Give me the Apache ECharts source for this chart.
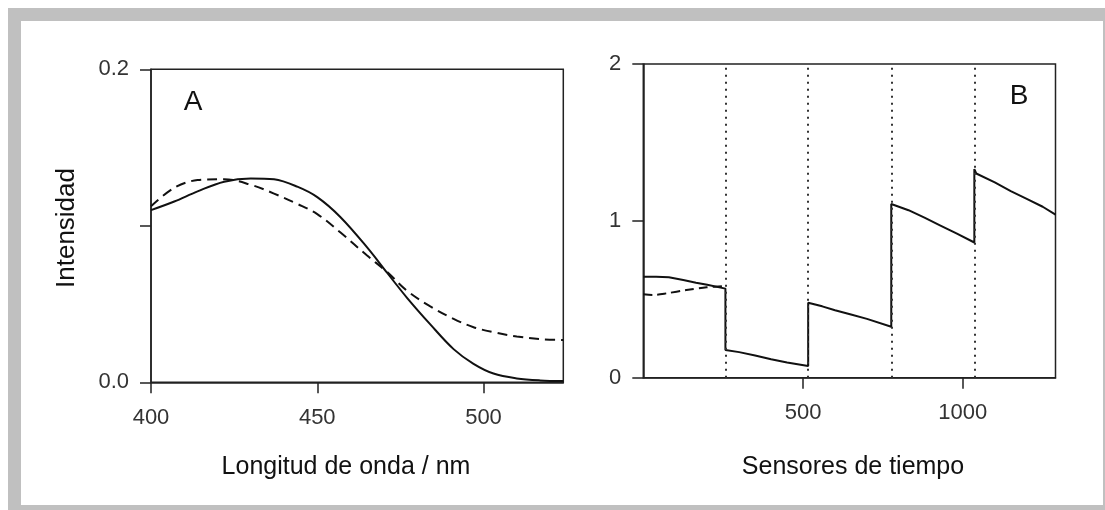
<!DOCTYPE html>
<html>
<head>
<meta charset="utf-8">
<script src="https://cdn.jsdelivr.net/npm/echarts@6/dist/echarts.min.js"></script>
<style>
  html, body { margin: 0; padding: 0; background: #fff; }
  #chart { width: 1105px; height: 510px; }
</style>
</head>
<body>
<div id="chart"></div>
<script>
// panel A: spectra
var wavelength = [400, 407, 414, 422, 430, 437, 444, 450, 457, 465, 471, 477, 484, 491, 497, 503, 510, 517, 524];
var spectrumSolid = [0.110, 0.1155, 0.122, 0.1282, 0.1303, 0.1297, 0.125, 0.1183, 0.1055, 0.0862, 0.070, 0.054, 0.037, 0.0212, 0.0118, 0.0056, 0.0025, 0.0012, 0.0008];
var spectrumDashed = [0.1125, 0.1243, 0.1292, 0.1298, 0.1262, 0.1206, 0.114, 0.1075, 0.0957, 0.081, 0.0705, 0.0585, 0.0485, 0.0405, 0.0352, 0.032, 0.0293, 0.0276, 0.027];

// panel B: sensor time series
var timeSolid = [0, 40, 80, 125, 165, 200, 257, 257, 300, 350, 400, 450, 516, 516, 560, 600, 650, 700, 776, 776, 830, 880, 930, 980, 1036, 1036, 1042, 1100, 1150, 1200, 1250, 1290];
var valueSolid = [0.644, 0.644, 0.640, 0.623, 0.606, 0.592, 0.568, 0.177, 0.163, 0.142, 0.118, 0.097, 0.075, 0.478, 0.455, 0.430, 0.403, 0.375, 0.325, 1.107, 1.068, 1.020, 0.970, 0.920, 0.862, 1.330, 1.302, 1.245, 1.190, 1.140, 1.090, 1.040];
var timeDashed = [0, 30, 73, 135, 198, 257];
var valueDashed = [0.532, 0.528, 0.538, 0.559, 0.576, 0.585];
var sensorBounds = [257, 516, 776, 1036];

function pairs(xs, ys) {
    return xs.map(function (x, i) { return [x, ys[i]]; });
}

var font = 'Liberation Sans, Arial, sans-serif';
var axisCol = '#222';
var lineCol = '#111';

var chart = echarts.init(document.getElementById('chart'));
chart.setOption({
    animation: false,
    backgroundColor: '#fff',
    grid: [
        {left: 151, top: 69.3, width: 412.3, height: 313, show: true, borderColor: axisCol, borderWidth: 1.5, backgroundColor: 'transparent'},
        {left: 643.3, top: 64, width: 412.2, height: 313.7, show: true, borderColor: axisCol, borderWidth: 1.5, backgroundColor: 'transparent'}
    ],
    xAxis: [
        {
            gridIndex: 0, type: 'value', min: 400, max: 524, interval: 50,
            axisLine: {lineStyle: {color: axisCol, width: 1.5}},
            axisTick: {length: 11, lineStyle: {color: axisCol, width: 1.5}},
            axisLabel: {margin: 25, color: '#333', fontSize: 22, fontFamily: font, showMaxLabel: false},
            splitLine: {show: false}
        },
        {
            gridIndex: 1, type: 'value', min: 0, max: 1290, interval: 500,
            axisLine: {lineStyle: {color: axisCol, width: 1.5}},
            axisTick: {length: 11, customValues: [500, 1000], lineStyle: {color: axisCol, width: 1.5}},
            axisLabel: {
                margin: 24, color: '#333', fontSize: 22, fontFamily: font, customValues: [500, 1000],
                formatter: function (v) { return String(v); }
            },
            splitLine: {show: false}
        }
    ],
    yAxis: [
        {
            gridIndex: 0, type: 'value', min: 0, max: 0.2, interval: 0.1,
            axisLine: {show: true, lineStyle: {color: axisCol, width: 1.5}},
            axisTick: {show: true, length: 11, lineStyle: {color: axisCol, width: 1.5}},
            axisLabel: {
                margin: 22, color: '#333', fontSize: 22, fontFamily: font,
                formatter: function (v) { return Math.abs(v - 0.1) < 1e-9 ? '' : v.toFixed(1); }
            },
            splitLine: {show: false}
        },
        {
            gridIndex: 1, type: 'value', min: 0, max: 2, interval: 1,
            axisLine: {show: true, lineStyle: {color: axisCol, width: 1.5}},
            axisTick: {show: true, length: 11, lineStyle: {color: axisCol, width: 1.5}},
            axisLabel: {margin: 22, color: '#333', fontSize: 22, fontFamily: font},
            splitLine: {show: false}
        }
    ],
    series: [
        {
            type: 'line', xAxisIndex: 0, yAxisIndex: 0, data: pairs(wavelength, spectrumSolid),
            smooth: 0.35, showSymbol: false, lineStyle: {color: lineCol, width: 2}
        },
        {
            type: 'line', xAxisIndex: 0, yAxisIndex: 0, data: pairs(wavelength, spectrumDashed),
            smooth: 0.35, showSymbol: false, lineStyle: {color: lineCol, width: 2, type: [10, 6]}
        },
        {
            type: 'line', xAxisIndex: 1, yAxisIndex: 1, data: pairs(timeSolid, valueSolid),
            showSymbol: false, lineStyle: {color: lineCol, width: 2},
            markLine: {
                silent: true, symbol: 'none', label: {show: false},
                lineStyle: {color: '#333', width: 2, type: [2, 5]},
                data: sensorBounds.map(function (v) { return {xAxis: v}; })
            }
        },
        {
            type: 'line', xAxisIndex: 1, yAxisIndex: 1, data: pairs(timeDashed, valueDashed),
            smooth: 0.3, showSymbol: false, lineStyle: {color: lineCol, width: 2, type: [9, 5]}
        }
    ],
    graphic: [
        {type: 'rect', shape: {x: 14.5, y: 14.5, width: 1095, height: 497}, style: {fill: 'none', stroke: '#c0c0c0', lineWidth: 13}, z: 100},
        {type: 'text', x: 193, y: 102, style: {text: 'A', font: '28px ' + font, fill: '#111', align: 'center', verticalAlign: 'middle'}},
        {type: 'text', x: 1019, y: 96, style: {text: 'B', font: '28px ' + font, fill: '#111', align: 'center', verticalAlign: 'middle'}},
        {type: 'text', x: 67, y: 228, rotation: Math.PI / 2, style: {text: 'Intensidad', font: '26px ' + font, fill: '#111', align: 'center', verticalAlign: 'middle'}},
        {type: 'text', x: 346, y: 467, style: {text: 'Longitud de onda / nm', font: '25px ' + font, fill: '#111', align: 'center', verticalAlign: 'middle'}},
        {type: 'text', x: 853, y: 467, style: {text: 'Sensores de tiempo', font: '25px ' + font, fill: '#111', align: 'center', verticalAlign: 'middle'}}
    ]
});
</script>
</body>
</html>
